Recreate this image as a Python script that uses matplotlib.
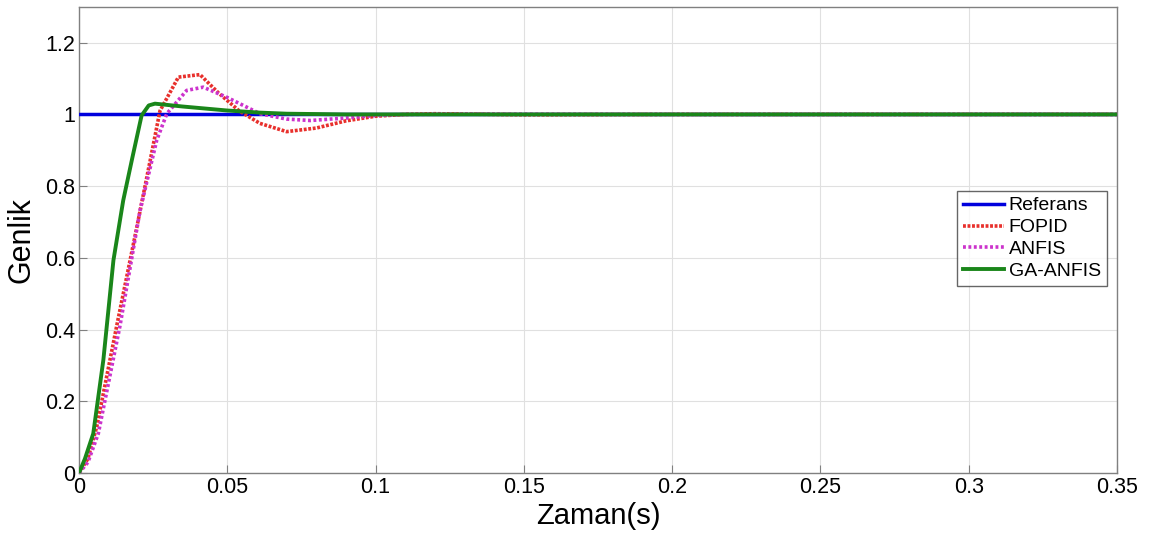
import matplotlib
matplotlib.use("Agg")
import matplotlib.pyplot as plt
import numpy as np

plt.rcParams['font.family'] = ['Liberation Sans', 'DejaVu Sans']

# Data
ref_t = [0.0, 0.35]
ref_y = [1.0, 1.0]

fopid_t = [0.0, 0.003, 0.006, 0.0127, 0.0195, 0.024, 0.0273, 0.0335, 0.0408, 0.047, 0.054, 0.061, 0.07, 0.08, 0.09, 0.1, 0.11, 0.12, 0.15, 0.2, 0.35]
fopid_y = [0.0, 0.04, 0.13, 0.41, 0.686, 0.872, 1.01, 1.104, 1.111, 1.06, 1.01, 0.975, 0.952, 0.962, 0.982, 0.995, 1.0, 1.002, 0.999, 1.0, 1.0]

anfis_t = [0.0, 0.003, 0.0065, 0.0138, 0.0206, 0.0262, 0.0296, 0.0363, 0.0419, 0.0498, 0.061, 0.07, 0.078, 0.09, 0.1, 0.11, 0.13, 0.2, 0.35]
anfis_y = [0.0, 0.03, 0.11, 0.41, 0.733, 0.928, 1.002, 1.067, 1.076, 1.048, 1.002, 0.987, 0.983, 0.99, 0.997, 1.0, 1.001, 1.0, 1.0]

ga_t = [0.0, 0.002, 0.0048, 0.0082, 0.0116, 0.0149, 0.018, 0.0211, 0.0235, 0.0256, 0.035, 0.0498, 0.061, 0.07, 0.09, 0.35]
ga_y = [0.0, 0.04, 0.11, 0.315, 0.593, 0.76, 0.88, 0.997, 1.025, 1.03, 1.022, 1.011, 1.005, 1.002, 1.0, 1.0]

xticks = [0, 0.05, 0.1, 0.15, 0.2, 0.25, 0.3, 0.35]
xticklabels = ['0', '0.05', '0.1', '0.15', '0.2', '0.25', '0.3', '0.35']
yticks = [0, 0.2, 0.4, 0.6, 0.8, 1.0, 1.2]
yticklabels = ['0', '0.2', '0.4', '0.6', '0.8', '1', '1.2']

fig = plt.figure(figsize=(11.52, 5.34), dpi=100)
ax = fig.add_axes([0.0686, 0.1142, 0.901, 0.873])

ax.plot(ref_t, ref_y, color='#0000dd', lw=2.5, label='Referans', zorder=3)
ax.plot(fopid_t, fopid_y, color='#e8302c', lw=2.6, ls=(0, (0.8, 0.45)), label='FOPID', zorder=4)
ax.plot(anfis_t, anfis_y, color='#cc33cc', lw=2.6, ls=(0, (0.8, 0.7)), label='ANFIS', zorder=5)
ax.plot(ga_t, ga_y, color='#1a861a', lw=2.8, label='GA-ANFIS', zorder=6)

ax.set_xlim(0, 0.35)
ax.set_ylim(0, 1.3)
ax.set_xticks(xticks)
ax.set_xticklabels(xticklabels)
ax.set_yticks(yticks)
ax.set_yticklabels(yticklabels)
ax.tick_params(direction='in', labelsize=15.5, length=6, color='#808080', pad=3)
ax.grid(True, color='#e0e0e0', lw=0.8)
for s in ax.spines.values():
    s.set_color('#808080')
    s.set_linewidth(1.0)

ax.set_xlabel('Zaman(s)', fontsize=21, labelpad=3)
ax.set_ylabel('Genlik', fontsize=22, labelpad=6)

leg = ax.legend(loc='upper left', bbox_to_anchor=(0.846, 0.605), fontsize=14,
                frameon=True, fancybox=False, handlelength=2.1, handletextpad=0.25,
                borderpad=0.3, labelspacing=0.22, borderaxespad=0)
leg.get_frame().set_edgecolor('#404040')
leg.get_frame().set_linewidth(1.0)

fig.savefig('out.png', dpi=100)
